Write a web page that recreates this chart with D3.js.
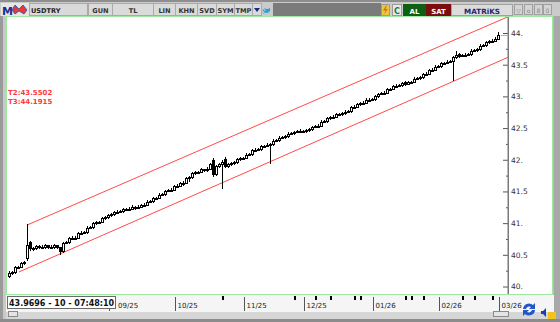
<!DOCTYPE html>
<html><head><meta charset="utf-8">
<script src="https://cdn.jsdelivr.net/npm/d3@7"></script>
<style>body{margin:0;background:#fff;}svg{display:block;font-family:"DejaVu Sans",Verdana,sans-serif;}</style>
</head><body><svg id="c" width="560" height="322"></svg>
<script>
// ---------- DATA ----------
const symbol = "USDTRY";
const statusText = "43.9696 - 10 - 07:48:10";
const opens = [40.17,40.22,40.23,40.31,40.31,40.37,40.45,40.70,40.60,40.60,
40.64,40.62,40.62,40.65,40.62,40.62,40.65,40.62,40.56,40.69,
40.70,40.76,40.77,40.77,40.84,40.85,40.86,40.93,40.94,41.00,
41.01,41.02,41.08,41.09,41.13,41.14,41.17,41.18,41.19,41.22,
41.22,41.23,41.26,41.25,41.26,41.28,41.29,41.34,41.35,41.39,
41.40,41.45,41.46,41.51,41.52,41.53,41.58,41.59,41.63,41.64,
41.71,41.72,41.79,41.80,41.81,41.85,41.84,41.86,41.99,41.78,
41.90,41.93,42.01,41.90,41.93,41.95,41.96,42.01,42.02,42.03,
42.08,42.09,42.15,42.16,42.17,42.22,42.22,42.24,42.25,42.30,
42.31,42.35,42.36,42.37,42.41,42.42,42.44,42.45,42.46,42.45,
42.47,42.48,42.52,42.53,42.54,42.60,42.61,42.66,42.67,42.68,
42.72,42.72,42.73,42.76,42.77,42.83,42.84,42.88,42.89,42.90,
42.95,42.95,42.96,43.00,43.04,43.05,43.06,43.11,43.12,43.16,
43.17,43.18,43.22,43.20,43.22,43.23,43.28,43.29,43.30,43.35,
43.36,43.41,43.42,43.47,43.48,43.53,43.53,43.55,43.56,43.62,
43.67,43.64,43.65,43.66,43.67,43.72,43.73,43.74,43.80,43.81,
43.86,43.87,43.88,43.91];
const highs = [40.25,40.25,40.33,40.33,40.39,40.41,40.99,40.72,40.63,40.66,
40.66,40.65,40.67,40.66,40.65,40.67,40.66,40.63,40.71,40.72,
40.78,40.79,40.79,40.86,40.87,40.88,40.95,40.96,41.02,41.03,
41.04,41.10,41.11,41.15,41.16,41.19,41.20,41.21,41.24,41.24,
41.25,41.28,41.27,41.28,41.30,41.31,41.36,41.37,41.41,41.42,
41.47,41.48,41.53,41.54,41.55,41.60,41.61,41.65,41.66,41.73,
41.74,41.81,41.82,41.83,41.87,41.86,41.88,41.95,42.02,41.92,
41.95,41.99,42.04,41.95,41.97,41.98,42.03,42.04,42.05,42.10,
42.11,42.17,42.18,42.19,42.24,42.24,42.26,42.27,42.32,42.33,
42.37,42.38,42.39,42.43,42.44,42.46,42.47,42.48,42.47,42.49,
42.50,42.54,42.55,42.56,42.62,42.63,42.68,42.69,42.70,42.74,
42.74,42.75,42.78,42.79,42.85,42.86,42.90,42.91,42.92,42.97,
42.97,42.98,43.02,43.06,43.07,43.08,43.13,43.14,43.18,43.19,
43.20,43.23,43.24,43.24,43.25,43.30,43.31,43.32,43.37,43.38,
43.43,43.44,43.49,43.50,43.55,43.55,43.57,43.58,43.64,43.72,
43.69,43.67,43.68,43.69,43.74,43.75,43.76,43.82,43.83,43.88,
43.89,43.90,43.93,44.02];
const lows = [40.15,40.20,40.21,40.29,40.30,40.35,40.42,40.58,40.58,40.59,
40.60,40.60,40.61,40.60,40.60,40.61,40.60,40.52,40.55,40.68,
40.69,40.75,40.75,40.76,40.83,40.84,40.85,40.92,40.93,40.99,
41.00,41.01,41.07,41.08,41.12,41.13,41.16,41.17,41.18,41.20,
41.21,41.22,41.23,41.24,41.25,41.27,41.28,41.33,41.34,41.38,
41.39,41.44,41.45,41.50,41.51,41.52,41.57,41.58,41.60,41.63,
41.66,41.71,41.78,41.79,41.80,41.82,41.83,41.85,41.74,41.76,
41.89,41.55,41.88,41.88,41.92,41.94,41.95,42.00,42.01,42.02,
42.07,42.08,42.14,42.15,42.16,42.20,42.21,41.95,42.24,42.29,
42.30,42.34,42.35,42.36,42.40,42.41,42.43,42.44,42.43,42.44,
42.46,42.47,42.51,42.52,42.53,42.59,42.60,42.65,42.66,42.67,
42.70,42.71,42.72,42.75,42.76,42.82,42.83,42.87,42.88,42.89,
42.93,42.94,42.95,42.99,43.03,43.04,43.05,43.10,43.11,43.15,
43.16,43.17,43.18,43.19,43.21,43.22,43.27,43.28,43.29,43.34,
43.35,43.40,43.41,43.46,43.47,43.51,43.52,43.54,43.26,43.61,
43.62,43.63,43.64,43.65,43.66,43.71,43.72,43.73,43.79,43.80,
43.85,43.86,43.87,43.90];
const closes = [40.22,40.23,40.31,40.31,40.37,40.38,40.66,40.60,40.61,40.64,
40.62,40.63,40.65,40.62,40.63,40.65,40.62,40.56,40.69,40.70,
40.76,40.77,40.77,40.84,40.85,40.86,40.93,40.94,41.00,41.01,
41.02,41.08,41.09,41.13,41.14,41.17,41.18,41.19,41.22,41.22,
41.23,41.26,41.25,41.26,41.28,41.29,41.34,41.35,41.39,41.40,
41.45,41.46,41.51,41.52,41.53,41.58,41.59,41.63,41.64,41.71,
41.72,41.79,41.80,41.81,41.85,41.84,41.86,41.93,41.77,41.90,
41.93,41.97,41.90,41.93,41.95,41.96,42.01,42.02,42.03,42.08,
42.09,42.15,42.16,42.17,42.22,42.22,42.24,42.25,42.30,42.31,
42.35,42.36,42.37,42.41,42.42,42.44,42.45,42.46,42.45,42.47,
42.48,42.52,42.53,42.54,42.60,42.61,42.66,42.67,42.68,42.72,
42.72,42.73,42.76,42.77,42.83,42.84,42.88,42.89,42.90,42.95,
42.95,42.96,43.00,43.04,43.05,43.06,43.11,43.12,43.16,43.17,
43.18,43.21,43.20,43.22,43.23,43.28,43.29,43.30,43.35,43.36,
43.41,43.42,43.47,43.48,43.53,43.53,43.55,43.56,43.62,43.66,
43.64,43.65,43.66,43.67,43.72,43.73,43.74,43.80,43.81,43.86,
43.87,43.88,43.91,43.97];
const monthLabels = ["09/25","10/25","11/25","12/25","01/26","02/26","03/26"];
const monthStartBar = [33,55,78,98,121,143,163];
const markerBars = [71,95,102,107,115,117,132,134,138,151,155,161];
const priceTicks = [40,40.5,41,41.5,42,42.5,43,43.5,44];
const priceTickLabels = ["40.","40.5","41.","41.5","42.","42.5","43.","43.5","44."];
const minorTicks = [40.25,40.75,41.25,41.75,42.25,42.75,43.25,43.75];
const lowerChannel = [[3.5,40.23],[166.5,43.62]];
const upperChannel = [[6.2,40.97],[166.5,44.26]];
const targetLabels = ["T2:43.5502","T3:44.1915"];
const lastPrice = 43.9696;
const toolbarButtons = ["GUN","TL","LIN","KHN","SVD","SYM","TMP"];

// ---------- DRAW ----------
const svg = d3.select("#c");
const W = 560, H = 322;
const plot = {l:7, t:17, r:508, b:294};

// window frame
svg.append("rect").attr("width",W).attr("height",H).attr("fill","#b9b9b9");
svg.append("rect").attr("x",0).attr("y",0).attr("width",3).attr("height",H).attr("fill","#9a9a9a");
svg.append("rect").attr("x",3).attr("y",0).attr("width",3).attr("height",H).attr("fill","#c9c9c9");
svg.append("rect").attr("x",554).attr("y",0).attr("width",6).attr("height",H).attr("fill","#a8a8a8");

// toolbar
svg.append("rect").attr("x",0).attr("y",0).attr("width",W).attr("height",16).attr("fill","#cbcbcb");
svg.append("rect").attr("x",0).attr("y",0).attr("width",W).attr("height",2).attr("fill","#8e8e8e");
svg.append("rect").attr("x",273).attr("y",3).attr("width",108).attr("height",13).attr("fill","#7b7b7b");
// logo
svg.append("rect").attr("x",1).attr("y",3).attr("width",29).attr("height",13).attr("fill","#e6e6e6");
svg.append("text").attr("x",2).attr("y",14.5).attr("font-size",11).attr("font-weight","bold").attr("fill","#1b2f8f").text("M");
svg.append("path").attr("d","M12,10 L15,5 L19,9 L23,5 L27,10 L24,14 L19,11 L15,14 Z").attr("fill","#e03a3a").attr("stroke","#2a4fb0").attr("stroke-width",0.8);
// symbol cell
svg.append("rect").attr("x",29.5).attr("y",3.5).attr("width",58).attr("height",12).attr("fill","#d9d9d9").attr("stroke","#a9a9a9");
svg.append("text").attr("x",31).attr("y",13).attr("font-size",6.6).attr("font-weight","bold").attr("fill","#222").text(symbol);
const btnX = [[88,112],[112,153],[153,175],[175,197],[197,216],[216,234],[234,252]];
toolbarButtons.forEach((b,i)=>{
  const [a,c]=btnX[i];
  svg.append("rect").attr("x",a+0.5).attr("y",3.5).attr("width",c-a).attr("height",12).attr("fill","#dadada").attr("stroke","#a9a9a9");
  svg.append("text").attr("x",(a+c)/2+0.5).attr("y",13).attr("text-anchor","middle").attr("font-size",6.6).attr("font-weight","bold").attr("fill","#333").text(b);
});
svg.append("rect").attr("x",252.5).attr("y",3.5).attr("width",9).attr("height",12).attr("fill","#dadada").attr("stroke","#a9a9a9");
svg.append("path").attr("d","M254,8 L260,8 L257,12 Z").attr("fill","#1a2a7a");
svg.append("path").attr("d","M263,9 Q265,12 268,11 Q266,14 262,13 Q265,13 265,12 Q262,11 263,9 Z M264,8 Q267,10 270,8 Q271,12 267,13 Z").attr("fill","#2b9fe0");
// right toolbar buttons
svg.append("rect").attr("x",381.5).attr("y",4.5).attr("width",8).attr("height",11).attr("fill","#e8c840").attr("stroke","#9a9a9a");
svg.append("path").attr("d","M386,5.5 L383,10.5 L385.5,10.5 L384,14.5 L388,9 L385.5,9 L387,5.5 Z").attr("fill","#e07010");
svg.append("rect").attr("x",392.5).attr("y",4.5).attr("width",9).attr("height",11).attr("fill","#e8e8e8").attr("stroke","#9a9a9a");
svg.append("text").attr("x",397).attr("y",13.5).attr("text-anchor","middle").attr("font-size",8).attr("font-weight","bold").attr("fill","#108040").text("C");
svg.append("rect").attr("x",403).attr("y",4).attr("width",23).attr("height",12).attr("fill","#0d5f12");
svg.append("text").attr("x",414.5).attr("y",13.5).attr("text-anchor","middle").attr("font-size",7).attr("font-weight","bold").attr("fill","#fff").text("AL");
svg.append("rect").attr("x",426).attr("y",4).attr("width",25).attr("height",12).attr("fill","#7a0e0e");
svg.append("text").attr("x",438.5).attr("y",13.5).attr("text-anchor","middle").attr("font-size",7).attr("font-weight","bold").attr("fill","#fff").text("SAT");
svg.append("rect").attr("x",451.5).attr("y",4.5).attr("width",61).attr("height",11).attr("fill","#dcdcdc").attr("stroke","#a0a0a0");
svg.append("text").attr("x",482).attr("y",13.5).attr("text-anchor","middle").attr("font-size",7.2).attr("font-weight","bold").attr("fill","#1c2a6e").text("MATRiKS");
[[514,"▽"],[524,"o"],[534,"8"],[543,"0"]].forEach(([x,t])=>{
  svg.append("rect").attr("x",x+0.5).attr("y",4.5).attr("width",8).attr("height",10).attr("fill","#d4d4d4").attr("stroke","#a0a0a0");
  svg.append("text").attr("x",x+4.5).attr("y",12.5).attr("text-anchor","middle").attr("font-size",6).attr("fill","#888").text(t);
});

// plot area
svg.append("rect").attr("x",6.5).attr("y",16.5).attr("width",546).attr("height",278).attr("fill","#fff").attr("stroke","#9fe89f");
// date strip & bottom
svg.append("rect").attr("x",6).attr("y",295).attr("width",548).attr("height",17).attr("fill","#f5f5f5");
svg.append("rect").attr("x",6).attr("y",312).attr("width",548).attr("height",7).attr("fill","#d6d6d6");
svg.append("rect").attr("x",0).attr("y",319).attr("width",W).attr("height",3).attr("fill","#8c8c8c");
svg.append("rect").attr("x",8.5).attr("y",311.5).attr("width",9).attr("height",5).attr("fill","#e4e4e4").attr("stroke","#8a8a8a");
svg.append("rect").attr("x",493.5).attr("y",311.5).attr("width",15).attr("height",5).attr("fill","#e4e4e4").attr("stroke","#8a8a8a");

// scales
const x = d3.scaleLinear().domain([0,163]).range([8.5,498]);
const y = d3.scaleLinear().domain([40,44]).range([286.5,33]);

svg.append("defs").append("clipPath").attr("id","pc").append("rect")
  .attr("x",plot.l).attr("y",plot.t).attr("width",plot.r-plot.l).attr("height",plot.b-plot.t);
const g = svg.append("g").attr("clip-path","url(#pc)");

// channel lines
const line = d3.line().x(d=>x(d[0])).y(d=>y(d[1]));
[lowerChannel, upperChannel].forEach(ch=>{
  g.append("path").attr("d",line(ch)).attr("fill","none").attr("stroke","#ff4a4a").attr("stroke-width",1);
});

// candles
const bars = closes.map((c,i)=>({i,o:opens[i],h:highs[i],l:lows[i],c}));
const cx = d=>Math.round(x(d.i))+0.5;
const cg = g.append("g").attr("shape-rendering","crispEdges");
cg.selectAll("line.w").data(bars).join("line").attr("class","w")
  .attr("x1",cx).attr("x2",cx)
  .attr("y1",d=>Math.round(y(d.h))).attr("y2",d=>Math.round(y(d.l))+1)
  .attr("stroke","#000").attr("stroke-width",1);
cg.selectAll("rect.b").data(bars).join("rect").attr("class","b")
  .attr("x",d=>cx(d)-1).attr("width",2)
  .attr("y",d=>Math.round(y(Math.max(d.o,d.c)))+0.5)
  .attr("height",d=>Math.max(1,Math.round(y(Math.min(d.o,d.c)))-Math.round(y(Math.max(d.o,d.c)))))
  .attr("fill",d=>d.c>=d.o?"#fff":"#000").attr("stroke","#000").attr("stroke-width",1);

// target labels
targetLabels.forEach((t,i)=>{
  svg.append("text").attr("x",8).attr("y",94.5+i*9).attr("font-size",7).attr("font-weight","bold").attr("fill","#ff3a3a").text(t);
});

// price axis
const axG = svg.append("g").attr("transform",`translate(${plot.r},0)`);
axG.call(d3.axisRight(y).tickValues(priceTicks).tickSize(-5).tickPadding(3).tickFormat((d,i)=>priceTickLabels[i]));
axG.select(".domain").remove();
axG.selectAll(".tick line").attr("stroke","#555");
axG.selectAll(".tick text").attr("font-size",7.5).attr("font-family","DejaVu Sans").attr("fill","#333");
const axMinor = svg.append("g").attr("transform",`translate(${plot.r},0)`);
axMinor.call(d3.axisRight(y).tickValues(minorTicks).tickSize(-2).tickFormat(""));
axMinor.select(".domain").remove();
axMinor.selectAll(".tick line").attr("stroke","#555");
svg.append("rect").attr("x",plot.r-0.5).attr("y",plot.t).attr("width",1.5).attr("height",plot.b-plot.t).attr("fill","#7a7a7a");
// last price marker
svg.append("line").attr("x1",501).attr("x2",507).attr("y1",Math.round(y(lastPrice))+0.5).attr("y2",Math.round(y(lastPrice))+0.5).attr("stroke","#8ab4ff").attr("stroke-width",1);

// date axis
const dg = svg.append("g").attr("shape-rendering","crispEdges");
monthLabels.forEach((m,i)=>{
  const mx = Math.round(x(monthStartBar[i]))+1.5;
  dg.append("line").attr("x1",mx).attr("x2",mx).attr("y1",297).attr("y2",311).attr("stroke","#555");
  svg.append("text").attr("x",Math.max(mx+2,118)).attr("y",308).attr("font-size",7).attr("fill","#222").text(m);
});
markerBars.forEach(b=>{
  dg.append("rect").attr("x",Math.round(x(b))).attr("y",296).attr("width",2).attr("height",4).attr("fill","#000");
});

// status box
svg.append("rect").attr("x",7.5).attr("y",296.5).attr("width",108).attr("height",12).attr("fill","#fff").attr("stroke","#6a6a6a");
svg.append("text").attr("x",9).attr("y",306).attr("font-size",8).attr("font-weight","bold").attr("fill","#111").text(statusText);

// bottom-right icons
svg.append("path").attr("d","M523,309 A6,6 0 0 1 533,305 L535,303 L535,309 L529,309 L531,307 A3.5,3.5 0 0 0 526,309 Z").attr("fill","#2356c8");
svg.append("path").attr("d","M535,310 A6,6 0 0 1 525,314 L523,316 L523,310 L529,310 L527,312 A3.5,3.5 0 0 0 532,310 Z").attr("fill","#2356c8");
svg.append("path").attr("d","M541,311 L543,311 L546,308 L546,317 L543,314 L541,314 Z").attr("fill","#1a3fb8");
svg.append("rect").attr("x",548).attr("y",312).attr("width",8).attr("height",7).attr("fill","#f3c21c");
</script></body></html>
